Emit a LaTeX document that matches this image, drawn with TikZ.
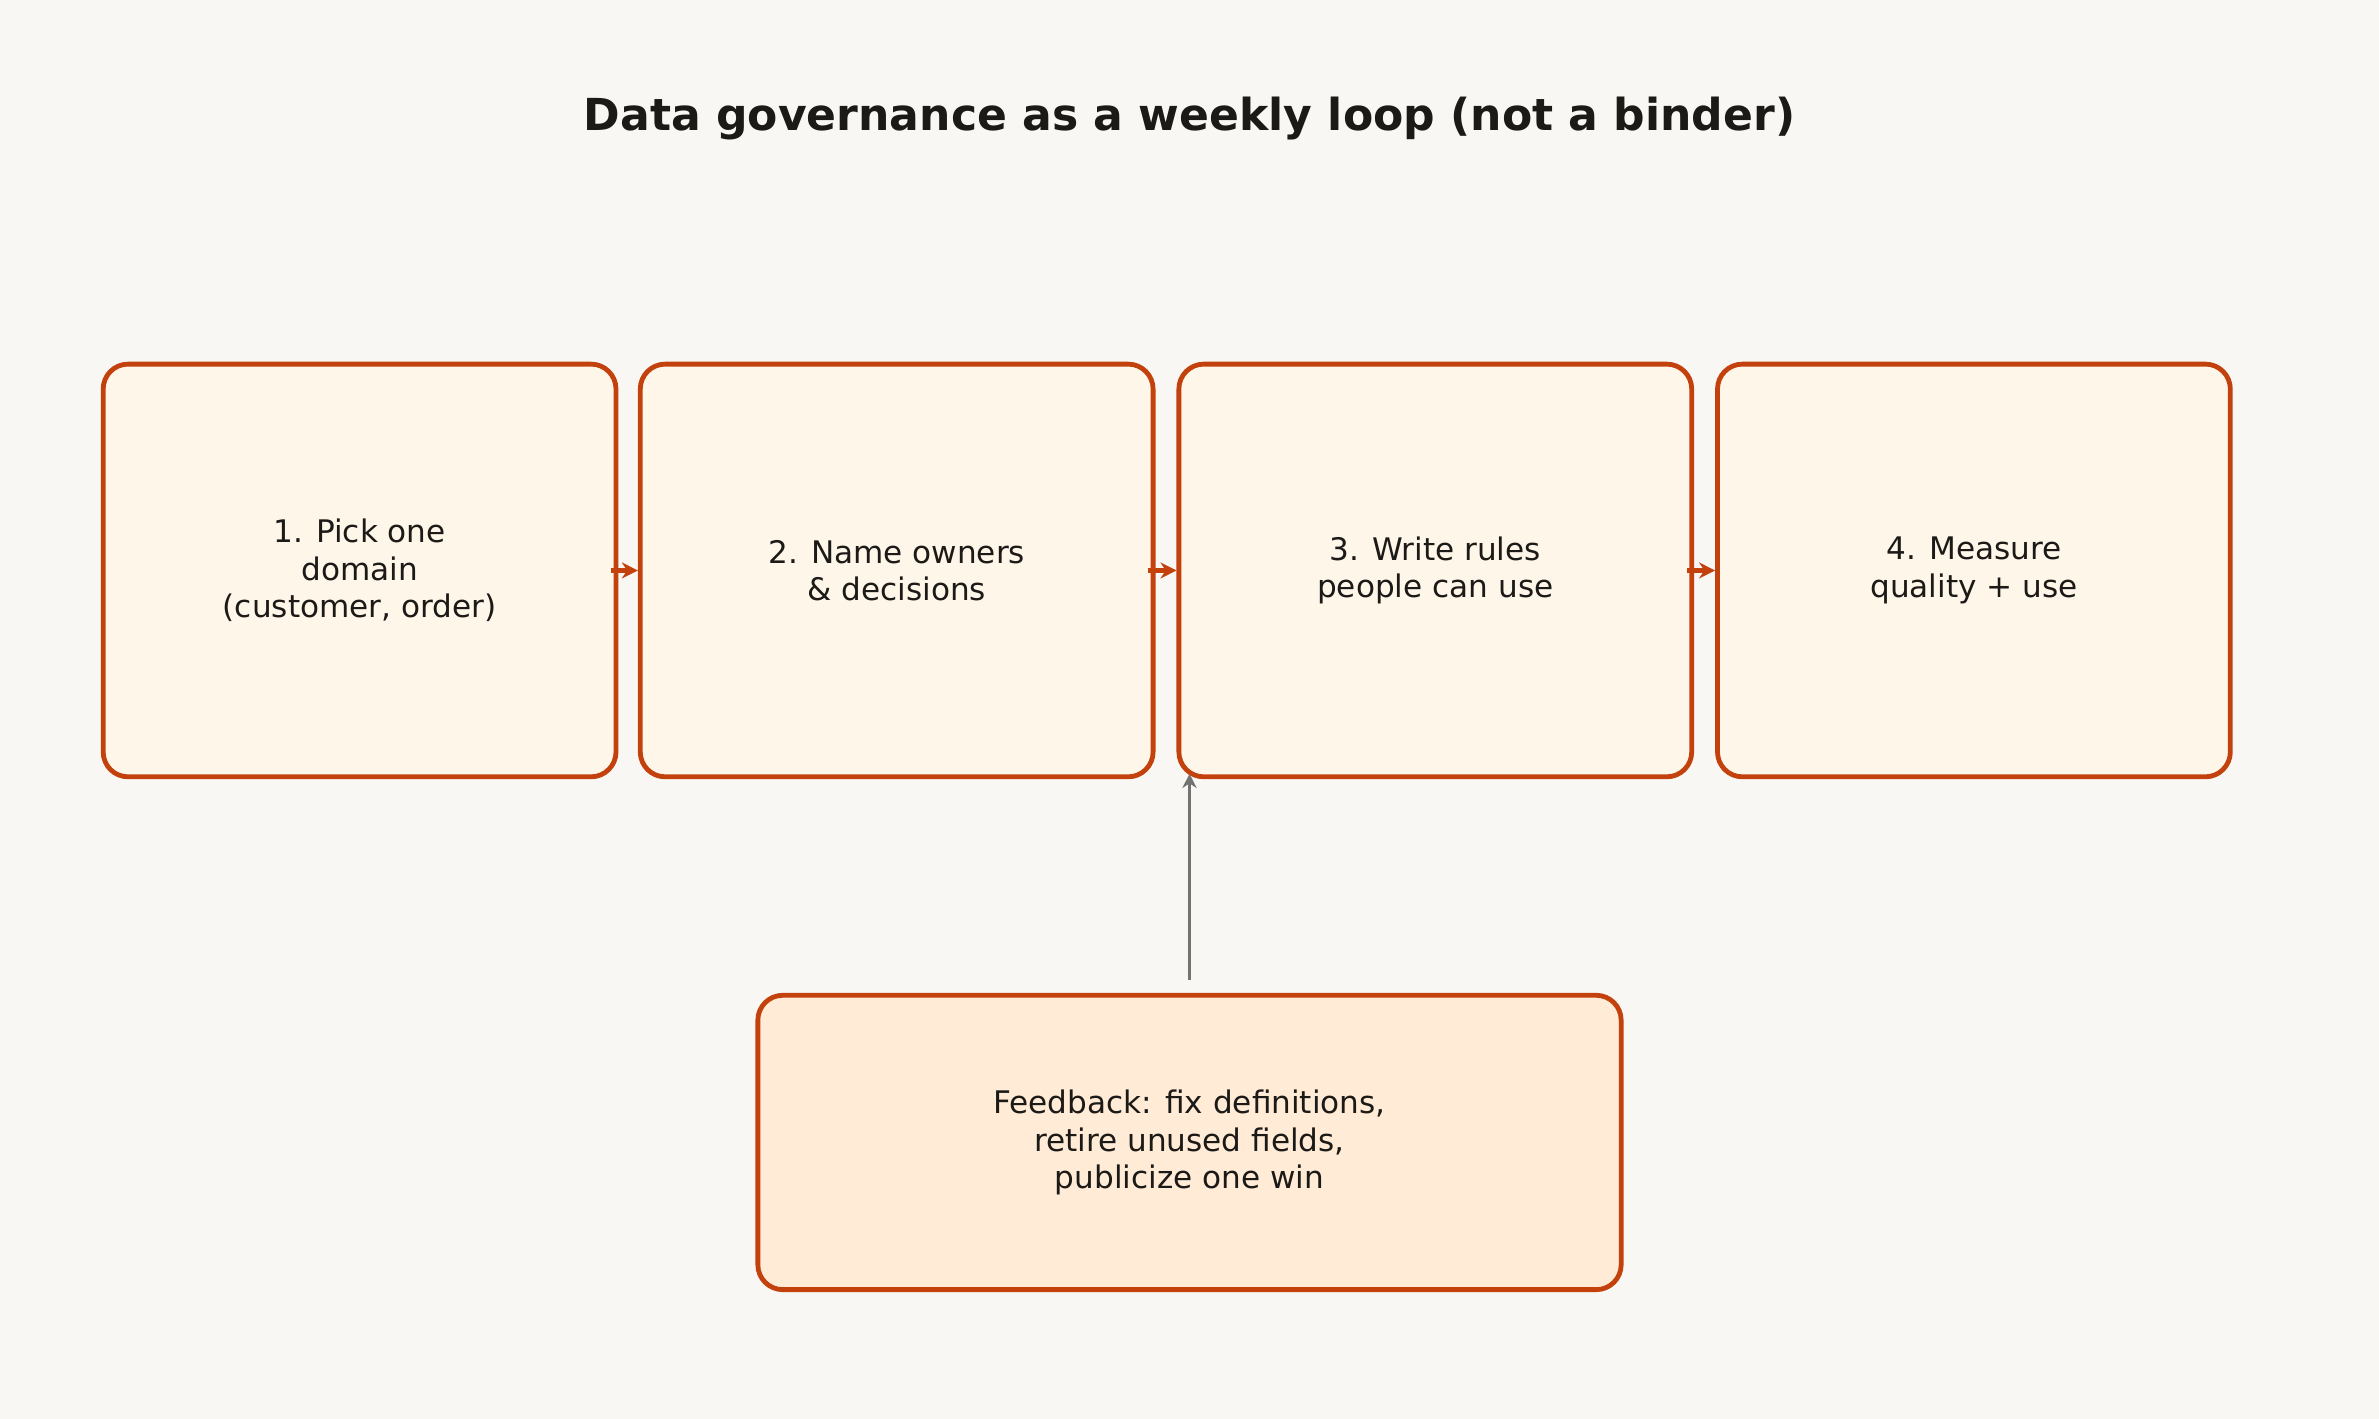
\documentclass[tikz,border=0pt]{standalone}
\usepackage{fontspec}
\setmainfont{DejaVu Sans}
\usetikzlibrary{arrows.meta}
\definecolor{bg}{HTML}{F9F7F3}
\definecolor{edge}{HTML}{C2410C}
\definecolor{fillA}{HTML}{FFF6EA}
\definecolor{fillB}{HTML}{FFEBD6}
\definecolor{ink}{HTML}{1C1A17}
\begin{document}
\begin{tikzpicture}[x=0.03cm,y=-0.03cm,
  box/.style={draw=edge,line width=2.7pt,rounded corners=14pt,fill=fillA,align=center,text=ink,font=\fontsize{17.5}{21}\selectfont},
  flow/.style={->,>={Stealth[length=9pt,width=9pt]},draw=edge,line width=2.7pt},
  fb/.style={->,>={Stealth[length=8pt,width=8pt]},draw=gray!90!black,line width=2pt}]
\fill[bg] (0,0) rectangle (1568,935);
\useasboundingbox (0,0) rectangle (1568,935);
\node[font=\bfseries\fontsize{24.8}{29}\selectfont,text=ink] (title) at (784,78) {Data governance as a weekly loop (not a binder)};
\node[box,minimum width=338*0.03cm,minimum height=272*0.03cm] (b1) at (237,376) {1. Pick one\\domain\\(customer, order)};
\node[box,minimum width=338*0.03cm,minimum height=272*0.03cm] (b2) at (591,376) {2. Name owners\\\& decisions};
\node[box,minimum width=338*0.03cm,minimum height=272*0.03cm] (b3) at (946,376) {3. Write rules\\people can use};
\node[box,minimum width=338*0.03cm,minimum height=272*0.03cm] (b4) at (1301,376) {4. Measure\\quality + use};
\node[box,fill=fillB,minimum width=569*0.03cm,minimum height=194*0.03cm] (f) at (784,753) {Feedback: fix definitions,\\retire unused fields,\\publicize one win};
\draw[flow] ([xshift=-4pt]b1.east) -- (b2.west);
\draw[flow] ([xshift=-4pt]b2.east) -- (b3.west);
\draw[flow] ([xshift=-4pt]b3.east) -- (b4.west);
\coordinate (fs) at (784,646);
\coordinate (ft) at (784,510);
\draw[fb] (fs) -- (ft);
\end{tikzpicture}
\end{document}
